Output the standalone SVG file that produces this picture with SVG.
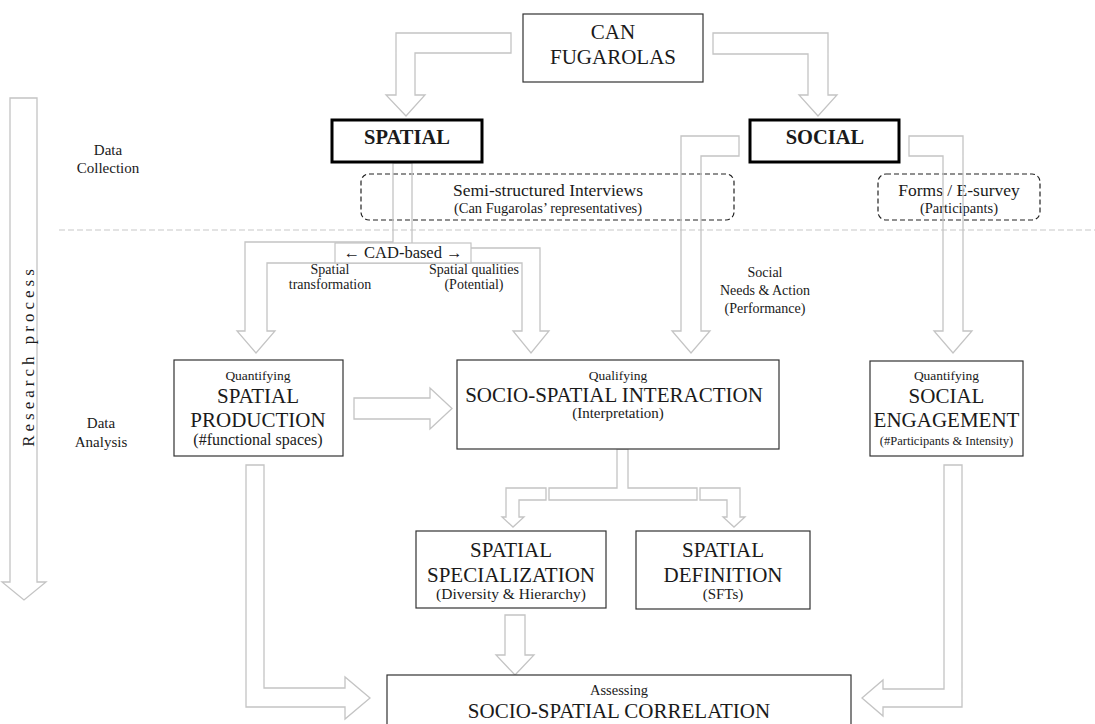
<svg xmlns="http://www.w3.org/2000/svg" width="1095" height="724" viewBox="0 0 1095 724" font-family="'Liberation Serif', 'DejaVu Serif', serif">
<style>
text{font-family:'Liberation Serif','DejaVu Serif',serif;fill:#1a1a1a;text-anchor:middle}
.box{fill:#fff;stroke:#333;stroke-width:1.2}
.bold{fill:#fff;stroke:#000;stroke-width:3}
.dash{fill:none;stroke:#222;stroke-width:1.2;stroke-dasharray:5,3}
.arr{fill:none;stroke:#c4c4c4;stroke-width:1.3;stroke-linejoin:miter}
.big{font-size:21px}
.sm{font-size:13.5px}
.md{font-size:14.5px}
.el{font-size:14px}
.sub{font-size:15px}
.lab{font-size:17.5px}
.b{font-weight:bold;font-size:20.5px}
</style>
<rect width="1095" height="724" fill="#fff"/>
<line x1="59" y1="230" x2="1095" y2="230" stroke="#c8c8c8" stroke-width="1.2" stroke-dasharray="6,3"/>
<g id="research-process">
<polygon class="arr" points="10,98 37,98 37,582 46,582 24,600 2,582 10,582"/>
<text transform="translate(34,356) rotate(-90)" style="font-size:17px;letter-spacing:4px">Research process</text>
</g>
<g id="phase-labels">
<text class="sub" x="108" y="155">Data</text>
<text class="sub" x="108" y="173">Collection</text>
<text class="sub" x="101" y="428">Data</text>
<text class="sub" x="101" y="447">Analysis</text>
</g>
<g id="interviews">
<rect class="dash" x="361" y="174" width="373" height="46" rx="8"/>
<text class="lab" x="548" y="196">Semi-structured Interviews</text>
<text class="md" x="548" y="213">(Can Fugarolas’ representatives)</text>
</g>
<g id="survey">
<rect class="dash" x="878" y="174" width="162" height="46" rx="8"/>
<text class="lab" x="959" y="196">Forms / E-survey</text>
<text class="md" x="959" y="213">(Participants)</text>
</g>
<g id="connectors">
<polygon class="arr" points="511,33 396,33 396,95 386,95 406,116 425,95 415,95 415,53 511,53"/>
<polygon class="arr" points="713,33 828,33 828,95 837,95 818,116 799,95 808,95 808,54 713,54"/>
<polygon class="arr" points="393,163 393,242 245,242 245,331 237,331 256,353 275,331 267,331 267,263 522,263 522,331 513,331 531,353 549,331 540,331 540,248 412,248 412,163"/>
<polygon class="arr" points="739,136 681,136 681,331 672,331 691,353 710,331 701,331 701,156 739,156"/>
<polygon class="arr" points="909,136 963,136 963,331 972,331 953,353 934,331 943,331 943,156 909,156"/>
<polygon class="arr" points="354,398 430,398 430,388 452,408.5 430,429 430,419 354,419"/>
<polygon class="arr" points="617,449 628,449 628,488 697,488 697,500 549,500 549,488 617,488"/>
<polygon class="arr" points="546,488 506,488 506,517 502,517 513,527 524,517 519,517 519,500 546,500"/>
<polygon class="arr" points="700,488 740,488 740,517 745,517 734,527 723,517 727,517 727,500 700,500"/>
<polygon class="arr" points="505,615 525,615 525,655 534,655 515,675 496,655 505,655"/>
<polygon class="arr" points="246,465 264,465 264,688 345,688 345,677 370,698 345,719 345,707 246,707"/>
<polygon class="arr" points="944,465 962,465 962,707 883,707 883,716 862,698 883,680 883,689 944,689"/>
</g>
<g id="can-fugarolas">
<rect class="box" x="523" y="14" width="180" height="68"/>
<text class="big" x="613" y="39">CAN</text>
<text class="big" x="613" y="64">FUGAROLAS</text>
</g>
<g id="spatial">
<rect class="bold" x="332" y="120" width="150" height="42"/>
<text class="b" x="407" y="144">SPATIAL</text>
</g>
<g id="social">
<rect class="bold" x="750" y="120" width="149" height="42"/>
<text class="b" x="825" y="144">SOCIAL</text>
</g>
<g id="cad-based">
<rect x="335" y="243" width="136" height="20" fill="#fff" stroke="#c4c4c4" stroke-width="1.2"/>
<text style="font-size:16.5px" x="403" y="258">← CAD-based →</text>
</g>
<g id="edge-labels">
<text class="el" x="330" y="274">Spatial</text>
<text class="el" x="330" y="289">transformation</text>
<text class="el" x="474" y="274">Spatial qualities</text>
<text class="el" x="474" y="289">(Potential)</text>
<text class="el" x="765" y="277">Social</text>
<text class="el" x="765" y="295">Needs &amp; Action</text>
<text class="el" x="765" y="313">(Performance)</text>
</g>
<g id="spatial-production">
<rect class="box" x="174" y="360" width="169" height="96"/>
<text class="sm" x="258" y="380">Quantifying</text>
<text class="big" x="258" y="403">SPATIAL</text>
<text class="big" x="258" y="427">PRODUCTION</text>
<text style="font-size:16px" x="258" y="445">(#functional spaces)</text>
</g>
<g id="socio-spatial-interaction">
<rect class="box" x="457" y="360" width="322" height="89"/>
<text class="sm" x="618" y="380">Qualifying</text>
<text class="big" x="614" y="402">SOCIO-SPATIAL INTERACTION</text>
<text class="sub" x="618" y="418">(Interpretation)</text>
</g>
<g id="social-engagement">
<rect class="box" x="870" y="361" width="153" height="95"/>
<text class="sm" x="946.5" y="380">Quantifying</text>
<text class="big" x="946.5" y="403">SOCIAL</text>
<text class="big" x="946.5" y="427">ENGAGEMENT</text>
<text style="font-size:12.5px" x="946.5" y="445">(#Participants &amp; Intensity)</text>
</g>
<g id="spatial-specialization">
<rect class="box" x="416" y="531" width="190" height="77"/>
<text class="big" x="511" y="557">SPATIAL</text>
<text class="big" x="511" y="582">SPECIALIZATION</text>
<text style="font-size:15.5px" x="511" y="599">(Diversity &amp; Hierarchy)</text>
</g>
<g id="spatial-definition">
<rect class="box" x="636" y="531" width="174" height="78"/>
<text class="big" x="723" y="557">SPATIAL</text>
<text class="big" x="723" y="582">DEFINITION</text>
<text class="sub" x="723" y="599">(SFTs)</text>
</g>
<g id="socio-spatial-correlation">
<rect class="box" x="387" y="675" width="464" height="60"/>
<text class="md" x="619" y="695">Assessing</text>
<text class="big" x="619" y="718">SOCIO-SPATIAL CORRELATION</text>
</g>
</svg>
